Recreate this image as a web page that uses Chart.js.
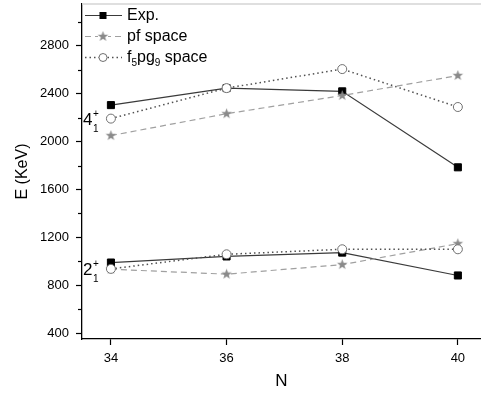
<!DOCTYPE html>
<html>
<head>
<meta charset="utf-8">
<script src="https://cdn.jsdelivr.net/npm/chart.js@4/dist/chart.umd.min.js"></script>
<style>
html,body{margin:0;padding:0;background:#fff;}
#wrap{width:481px;height:394px;position:relative;}
</style>
</head>
<body>
<div id="wrap"><canvas id="c" width="481" height="394"></canvas></div>
<script>
// ---- data ----
const categories = [34, 36, 38, 40];
const exp4 = [2305, 2447, 2420, 1785];
const pf4  = [2050, 2233, 2385, 2552];
const fpg4 = [2192, 2447, 2606, 2289];
const exp2 = [989, 1040, 1072, 881];
const pf2  = [933, 892, 972, 1147];
const fpg2 = [936, 1058, 1100, 1100];
const xTickValues = [34, 36, 38, 40];
const yTickValues = [400, 800, 1200, 1600, 2000, 2400, 2800];
const yMinorValues = [600, 1000, 1400, 1800, 2200, 2600, 3000];
const seriesNames = ['Exp.', 'pf space', 'f5pg9 space'];

const FONT = "'Liberation Sans', Arial, sans-serif";

function pts(vals){ return categories.map((x,i)=>({x:x,y:vals[i]})); }

// filled star marker
function makeStar(r, color){
  const s = Math.ceil(r*2+2);
  const c = document.createElement('canvas');
  c.width = s; c.height = s;
  const g = c.getContext('2d');
  g.translate(s/2, s/2);
  g.beginPath();
  for(let i=0;i<10;i++){
    const rr = i%2===0 ? r : r*0.42;
    const a = -Math.PI/2 + i*Math.PI/5;
    const px = rr*Math.cos(a), py = rr*Math.sin(a);
    if(i===0) g.moveTo(px,py); else g.lineTo(px,py);
  }
  g.closePath();
  g.fillStyle = color; g.fill();
  return c;
}
const starImg = makeStar(5.5, '#8a8a8a');

const styles = {
  exp: {borderColor:'#3a3a3a', borderWidth:1.2, borderDash:[], pointStyle:'rect', pointRadius:5, pointBackgroundColor:'#000', pointBorderColor:'#000', pointBorderWidth:1},
  pf:  {borderColor:'#a0a0a0', borderWidth:1.2, borderDash:[6,4], pointStyle:starImg, pointRadius:6, pointBackgroundColor:'#8a8a8a', pointBorderColor:'#8a8a8a', pointBorderWidth:1},
  fpg: {borderColor:'#505050', borderWidth:1.5, borderDash:[1.5,3], pointStyle:'circle', pointRadius:4.5, pointBackgroundColor:'#fff', pointBorderColor:'#707070', pointBorderWidth:1}
};

function ds(label, vals, st, order){
  return Object.assign({label:label, data:pts(vals), fill:false, tension:0, order:order, pointHoverRadius:st.pointRadius, clip:false}, st);
}

const datasets = [
  ds(seriesNames[2], fpg4, styles.fpg, 1),
  ds(seriesNames[2], fpg2, styles.fpg, 1),
  ds(seriesNames[1], pf4, styles.pf, 2),
  ds(seriesNames[1], pf2, styles.pf, 2),
  ds(seriesNames[0], exp4, styles.exp, 3),
  ds(seriesNames[0], exp2, styles.exp, 3)
];

function drawSubText(ctx, parts, x, y, size){
  let cx = x;
  parts.forEach(([t, m])=>{
    if(m==='n'){ ctx.font = size+'px '+FONT; ctx.fillText(t, cx, y); cx += ctx.measureText(t).width; }
    else if(m==='sub'){ ctx.font = Math.round(size*0.62)+'px '+FONT; ctx.fillText(t, cx, y+size*0.3); cx += ctx.measureText(t).width; }
    else if(m==='sup'){ ctx.font = Math.round(size*0.62)+'px '+FONT; ctx.fillText(t, cx, y-size*0.45); cx += ctx.measureText(t).width; }
  });
  return cx;
}

const decorPlugin = {
  id:'decor',
  afterDraw(chart){
    const ctx = chart.ctx;
    const ca = chart.chartArea;
    const ys = chart.scales.y;
    ctx.save();
    // top light border
    ctx.strokeStyle = '#d4d4d4'; ctx.lineWidth = 1.5;
    ctx.beginPath(); ctx.moveTo(ca.left, ca.top); ctx.lineTo(ca.right, ca.top); ctx.stroke();
    // minor ticks on y
    ctx.strokeStyle = '#000'; ctx.lineWidth = 1.2;
    yMinorValues.forEach(v=>{
      const py = Math.round(ys.getPixelForValue(v))+0.5;
      ctx.beginPath(); ctx.moveTo(ca.left-4, py); ctx.lineTo(ca.left, py); ctx.stroke();
    });
    // state labels 4_1^+ and 2_1^+
    ctx.fillStyle = '#000'; ctx.textBaseline = 'alphabetic'; ctx.textAlign='left';
    const lx = ca.left + 1;
    [[ '4', 2142],[ '2', 885]].forEach(([d, v])=>{
      const py = ys.getPixelForValue(v);
      ctx.font = '17px '+FONT;
      ctx.fillText(d, lx, py);
      const w = ctx.measureText(d).width;
      ctx.font = '10px '+FONT;
      ctx.fillText('+', lx+w+0.5, py-8);
      ctx.fillText('1', lx+w+0.5, py+7);
    });
    // legend
    const rows = [15, 36, 57];
    const keys = ['exp','pf','fpg'];
    rows.forEach((ry, i)=>{
      const st = styles[keys[i]];
      ctx.save();
      ctx.strokeStyle = st.borderColor; ctx.lineWidth = st.borderWidth;
      ctx.setLineDash(st.borderDash);
      ctx.beginPath(); ctx.moveTo(85, ry+0.5); ctx.lineTo(122, ry+0.5); ctx.stroke();
      ctx.restore();
      const mx = 103;
      if(keys[i]==='exp'){
        ctx.fillStyle = '#000'; ctx.fillRect(mx-3.5, ry-3, 7, 7);
      } else if(keys[i]==='pf'){
        ctx.fillStyle='#fff'; ctx.fillRect(mx-5, ry-5, 10, 10);
        ctx.drawImage(starImg, mx-starImg.width/2, ry-starImg.height/2+0.5);
      } else {
        ctx.fillStyle='#fff'; ctx.strokeStyle='#707070'; ctx.lineWidth=1;
        ctx.beginPath(); ctx.arc(mx, ry+0.5, 4, 0, Math.PI*2); ctx.fill(); ctx.stroke();
      }
      ctx.fillStyle = '#000'; ctx.textBaseline='middle'; ctx.textAlign='left';
      if(i<2){
        ctx.font = '16px '+FONT; ctx.fillText(seriesNames[i], 127, ry+1);
      } else {
        drawSubText(ctx, [['f','n'],['5','sub'],['pg','n'],['9','sub'],[' space','n']], 127, ry+1, 16);
      }
    });
    ctx.restore();
  }
};

new Chart(document.getElementById('c'), {
  type:'line',
  data:{datasets:datasets},
  plugins:[decorPlugin],
  options:{
    responsive:false,
    animation:false,
    layout:{autoPadding:false, padding:{top:4,right:0,bottom:0,left:0}},
    plugins:{legend:{display:false}, tooltip:{enabled:false}},
    scales:{
      x:{
        type:'linear', min:33.5, max:40.4,
        afterBuildTicks(s){ s.ticks = xTickValues.map(v=>({value:v})); },
        afterFit(s){ s.height = 55; s.paddingLeft = 0; s.paddingRight = 0; },
        grid:{drawOnChartArea:false, drawTicks:true, tickLength:6, tickColor:'#000', tickWidth:1.2},
        border:{display:true, color:'#000', width:1.3},
        ticks:{color:'#000', font:{family:FONT, size:13}, padding:6, maxRotation:0, callback:(v)=>String(v)},
        title:{display:true, text:'N', color:'#000', font:{family:FONT, size:17}, padding:{top:0,bottom:2}}
      },
      y:{
        type:'linear', min:350, max:3150,
        afterBuildTicks(s){ s.ticks = yTickValues.map(v=>({value:v})); },
        afterFit(s){ s.width = 82; s.paddingTop = 0; s.paddingBottom = 0; },
        grid:{drawOnChartArea:false, drawTicks:true, tickLength:6, tickColor:'#000', tickWidth:1.2},
        border:{display:true, color:'#000', width:1.3},
        ticks:{color:'#000', font:{family:FONT, size:13}, padding:7, callback:(v)=>String(v)},
        title:{display:true, text:'E (KeV)', color:'#000', font:{family:FONT, size:16}, padding:{top:13,bottom:0}}
      }
    }
  }
});
</script>
</body>
</html>
